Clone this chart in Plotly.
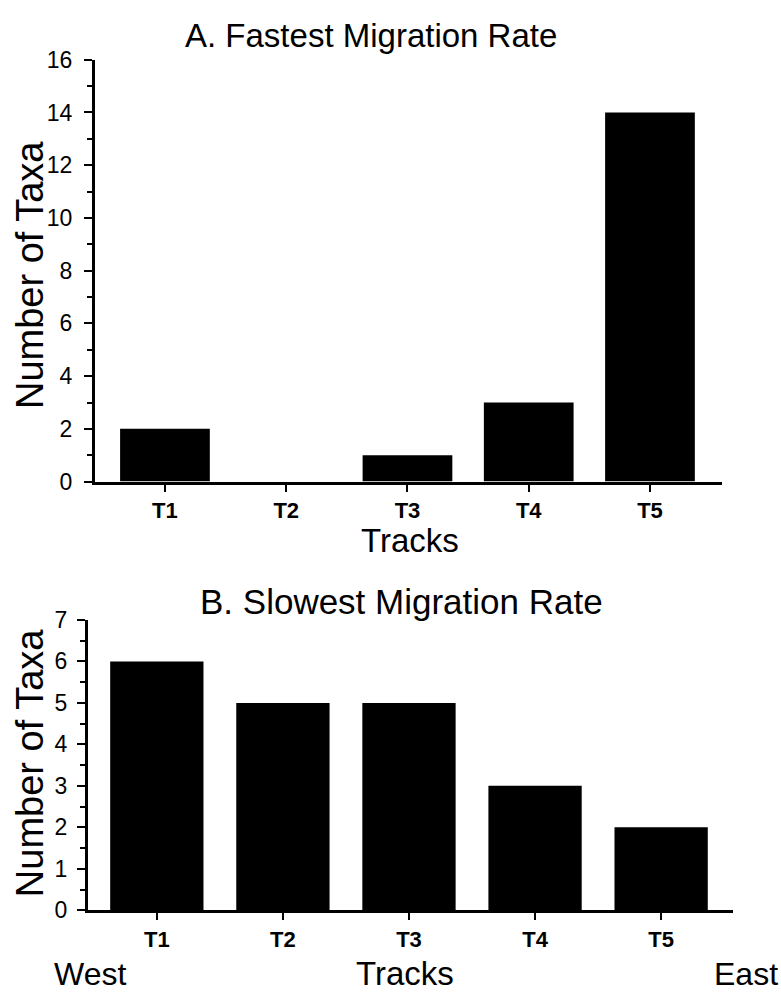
import plotly.graph_objects as go

W, H = 781, 1008

tracks = ["T1", "T2", "T3", "T4", "T5"]
fastest = [2, 0, 1, 3, 14]
slowest = [6, 5, 5, 3, 2]

FONT = "Liberation Sans, Arial, Helvetica, sans-serif"

def px_x(x):
    return x / W

def px_y(y):
    return 1 - y / H

fig = go.Figure()
fig.add_trace(go.Bar(x=tracks, y=fastest, marker=dict(color="black", line=dict(width=0)),
                     xaxis="x", yaxis="y", showlegend=False))
fig.add_trace(go.Bar(x=tracks, y=slowest, marker=dict(color="black", line=dict(width=0)),
                     xaxis="x2", yaxis="y2", showlegend=False))

xcommon = dict(showline=True, linewidth=3, linecolor="black", ticks="outside", ticklen=7,
               tickwidth=1.5, tickcolor="black", showgrid=False, zeroline=False,
               tickfont=dict(family=FONT, size=22, color="black", weight="bold"))
ycommon = dict(showline=True, linewidth=3, linecolor="black", ticks="outside", ticklen=8,
               tickwidth=2, tickcolor="black", showgrid=False, zeroline=False,
               tickfont=dict(family=FONT, size=23, color="black"))

fig.update_layout(
    width=W, height=H, margin=dict(l=0, r=0, t=0, b=0),
    paper_bgcolor="white", plot_bgcolor="white", bargap=0.26,
    xaxis=dict(domain=[px_x(95), px_x(722)], range=[-0.577, 4.594], anchor="y", **xcommon),
    yaxis=dict(domain=[px_y(481), px_y(48)], range=[0, 16], anchor="x", dtick=2,
               ticklabelstandoff=7,
               minor=dict(dtick=1, ticklen=5, tickwidth=1.5, tickcolor="black", ticks="outside"),
               **ycommon),
    xaxis2=dict(domain=[px_x(88), px_x(733)], range=[-0.546, 4.57], anchor="y2", **xcommon),
    yaxis2=dict(domain=[px_y(921), px_y(623)], range=[0, 7], anchor="x2", dtick=1,
                ticklabelstandoff=5,
                minor=dict(dtick=0.5, ticklen=5, tickwidth=1.5, tickcolor="black", ticks="outside"),
                **ycommon),
)

def ann(text, x, y, size, angle=0, xanchor="center"):
    fig.add_annotation(text=text, x=px_x(x), y=px_y(y), xref="paper", yref="paper",
                       xanchor=xanchor, yanchor="middle", showarrow=False, textangle=angle,
                       font=dict(family=FONT, size=size, color="black"))

ann("A. Fastest Migration Rate", 371, 23, 33)
ann("Tracks", 410, 541, 33)
ann("Number of Taxa", 30, 269, 38, angle=-90)
ann("B. Slowest Migration Rate", 401, 604, 35)
ann("Number of Taxa", 30, 770, 38, angle=-90)
ann("Tracks", 405, 986, 33)
ann("West", 90, 986, 32)
ann("East", 746, 986, 32)

fig.write_html("out.html")
